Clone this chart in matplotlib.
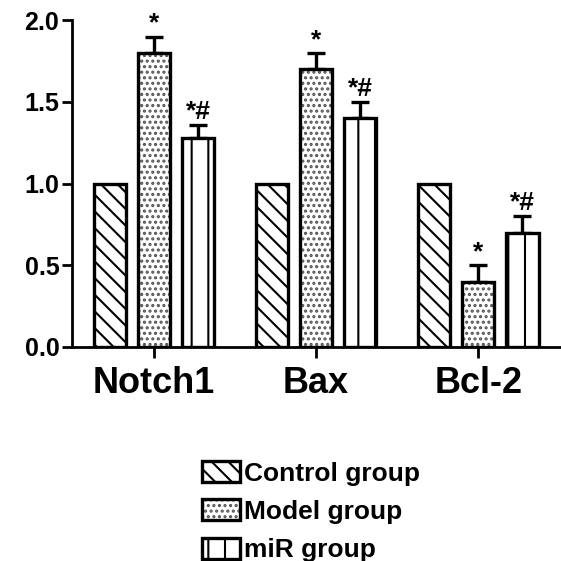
import matplotlib
matplotlib.use("Agg")
import matplotlib.pyplot as plt
from matplotlib.patches import Patch
import numpy as np

genes = ["Notch1", "Bax", "Bcl-2"]
groups = ["Control group", "Model group", "miR group"]
control = [1.0, 1.0, 1.0]
model = [1.80, 1.70, 0.40]
mir = [1.28, 1.40, 0.70]
model_err = [0.10, 0.10, 0.10]
mir_err = [0.08, 0.10, 0.10]
model_marks = ["*", "*", "*"]
mir_marks = ["*#", "*#", "*#"]
yticks = [0.0, 0.5, 1.0, 1.5, 2.0]

plt.rcParams['font.family'] = ['Liberation Sans', 'DejaVu Sans']
plt.rcParams['font.weight'] = 'bold'
plt.rcParams['hatch.linewidth'] = 1.5

fig = plt.figure(figsize=(5.61, 5.61), dpi=100)
ax = fig.add_axes([0.128, 0.3815, 0.872, 0.5825])

x = np.arange(len(genes))
off = 0.272
w = 0.20
lw = 2.4

series = [(control, None, '\\\\', 'black', None),
          (model, model_err, '...', '#555555', model_marks),
          (mir, mir_err, '|', 'black', mir_marks)]
handles = []
for i, (vals, errs, hatch, hcolor, marks) in enumerate(series):
    pos = x + (i - 1) * off
    ax.bar(pos, vals, w, facecolor='white', edgecolor=hcolor, linewidth=0, hatch=hatch, zorder=2)
    ax.bar(pos, vals, w, facecolor='none', edgecolor='black', linewidth=lw, zorder=3)
    handles.append((Patch(facecolor='white', edgecolor=hcolor, linewidth=0, hatch=hatch),
                    Patch(facecolor='none', edgecolor='black', linewidth=lw)))
    if marks:
        ax.errorbar(pos, vals, yerr=[np.zeros(len(vals)), errs], fmt='none', ecolor='black',
                    elinewidth=lw, capsize=6.5, capthick=lw, zorder=1)
        for p, v, e, m in zip(pos, vals, errs, marks):
            ax.text(p, v + e + 0.005, m, ha='center', va='bottom', fontsize=19, fontweight='bold')

ax.set_xlim(-0.506, 2.51)
ax.set_ylim(0, 2.0)
ax.set_yticks(yticks)
ax.set_yticklabels([f"{t:.1f}" for t in yticks], fontsize=18, fontweight='bold')
ax.set_xticks(x)
ax.set_xticklabels(genes, fontsize=26, fontweight='bold')
for s in ['top', 'right']:
    ax.spines[s].set_visible(False)
for s in ['left', 'bottom']:
    ax.spines[s].set_linewidth(2.0)
ax.tick_params(axis='y', width=2.0, length=7, pad=2)
ax.tick_params(axis='x', width=2.0, length=8, pad=6)

fig.legend(handles, groups, loc='upper left', bbox_to_anchor=(202/561, 1 - 461/561), frameon=False,
           handlelength=1.45, handleheight=0.85, handletextpad=0.15,
           labelspacing=0.52, borderpad=0, borderaxespad=0,
           prop={'weight': 'bold', 'size': 19})

fig.savefig("out.png", dpi=100)
